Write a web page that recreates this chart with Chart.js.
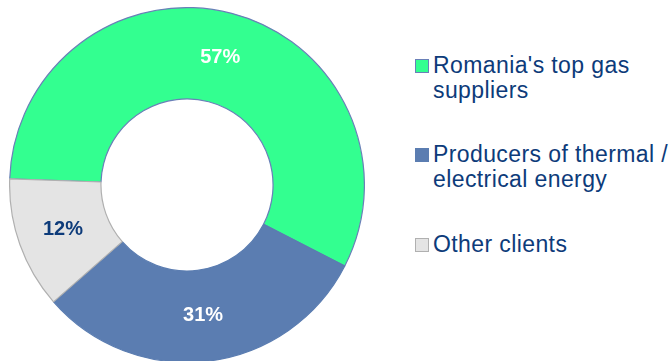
<!DOCTYPE html>
<html>
<head>
<meta charset="utf-8">
<script src="https://cdn.jsdelivr.net/npm/chart.js@4.4.0/dist/chart.umd.min.js"></script>
<style>
  html, body { margin: 0; padding: 0; background: #fff; overflow: hidden; }
  body { width: 672px; height: 361px; position: relative; font-family: "Liberation Sans", Arial, sans-serif; }
  #chart-box { position: absolute; left: 9px; top: 7px; width: 356px; height: 356px; }
  #legend { position: absolute; left: 415px; top: 0; color: #0d3b7a; font-size: 23px; letter-spacing: 0.4px; }
  .item { position: absolute; left: 0; white-space: nowrap; line-height: 25px; }
  .item .box { position: absolute; left: 0; width: 12px; height: 12px; box-sizing: content-box; }
  .item .txt { position: absolute; left: 18px; top: 0; }
</style>
</head>
<body>
<div id="chart-box"><canvas id="pie"></canvas></div>
<div id="legend"></div>
<script>
const labels = ["Romania's top gas suppliers", 'Producers of thermal / electrical energy', 'Other clients'];
const legendLines = [["Romania's top gas", 'suppliers'], ['Producers of thermal /', 'electrical energy'], ['Other clients']];
const shares = [57, 31, 12];

const fillColors = ['#33ff90', '#5b7db1', '#e4e4e4'];
const edgeColors = ['#6a80b8', '#5b7db1', '#b0b0b0'];
const valueColors = ['#ffffff', '#ffffff', '#0d3b7a'];

// html legend, multi-line labels
const legendTops = [53, 142, 232];
const legend = document.getElementById('legend');
legendLines.forEach(function(lines, i) {
    const item = document.createElement('div');
    item.className = 'item';
    item.style.top = legendTops[i] + 'px';
    item.innerHTML = `
        <div class="box" style="top:6px;background:${fillColors[i]};border:1.5px solid ${i === 1 ? fillColors[i] : edgeColors[i]}"></div>
        <div class="txt">${lines.join('<br>')}</div>
    `;
    legend.appendChild(item);
});

const valueLabels = {
    id: 'valueLabels',
    afterDatasetsDraw(chart) {
        const ctx = chart.ctx;
        const meta = chart.getDatasetMeta(0);
        ctx.save();
        ctx.font = 'bold 20px "Liberation Sans", Arial, sans-serif';
        ctx.textAlign = 'center';
        ctx.textBaseline = 'middle';
        meta.data.forEach(function(arc, i) {
            const p = arc.getCenterPoint();
            ctx.fillStyle = valueColors[i];
            ctx.fillText(shares[i] + '%', p.x, p.y);
        });
        ctx.restore();
    }
};

new Chart(document.getElementById('pie'), {
    type: 'doughnut',
    data: {
        labels: labels,
        datasets: [{
            data: shares,
            backgroundColor: fillColors,
            borderColor: edgeColors,
            borderWidth: 1.2
        }]
    },
    options: {
        responsive: true,
        maintainAspectRatio: false,
        animation: false,
        rotation: 272,
        cutout: '48.5%',
        layout: { padding: 0 },
        plugins: {
            legend: { display: false },
            tooltip: { enabled: false }
        }
    },
    plugins: [valueLabels]
});
</script>
</body>
</html>
